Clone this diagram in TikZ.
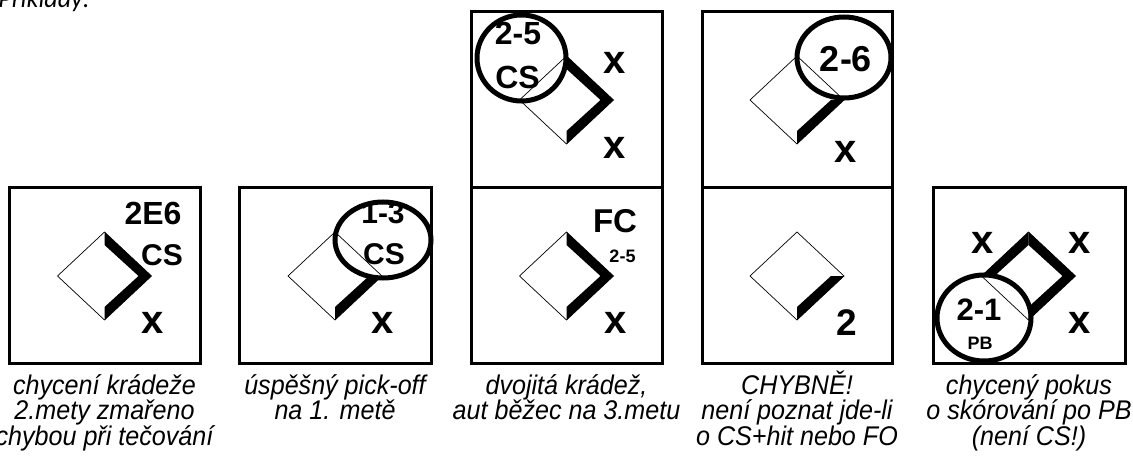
\documentclass[tikz,border=0pt]{standalone}
\usepackage{fontspec}
\setmainfont{Liberation Sans}
\newfontfamily\narrowfont[FakeStretch=0.93]{Liberation Sans}
\newfontfamily\notefont{Carlito}
\usetikzlibrary{positioning}

\newcommand{\sz}[1]{\fontsize{#1}{#1}\selectfont}
% diamond and the thick base paths (inside the diamond)
\newcommand{\basediamond}{\draw[base] (-47,0) -- (0,-44) -- (47,0) -- (0,44) -- cycle;}
\newcommand{\bandone}{\fill (47,0) -- (0,44) -- (0,31) -- (34,0) -- cycle;}
\newcommand{\bandtwo}{\fill (0,-44) -- (47,0) -- (34,0) -- (0,-31) -- cycle;}
\newcommand{\bandthree}{\fill (-47,0) -- (0,-44) -- (0,-31) -- (-34,0) -- cycle;}

\begin{document}
\begin{tikzpicture}[
    x=1pt, y=-1pt,
    frame/.style={line width=3pt},
    base/.style={line width=0.7pt},
    ring/.style={line width=5pt},
    tag/.style={anchor=base, inner sep=0pt, font=\bfseries\sz{#1}},
    capt/.style={anchor=base, inner sep=0pt, align=center, font=\narrowfont\itshape\fontsize{27}{25.5}\selectfont}
]
\useasboundingbox (0,0) rectangle (1133,468);

\node[anchor=base east, inner sep=0pt, font=\notefont\itshape\sz{26}] (intro) at (90,8) {Příklady:};

% box 1
\draw[frame] (9,188) rectangle (200,363);
\begin{scope}[shift={(104.5,276)}]
  \basediamond \bandtwo \bandone
\end{scope}
\node[tag=32] (b1code) at (153,224.5) {2E6};
\node[tag=30] (b1cs) at (162,265) {CS};
\node[tag=40] (b1x) at (152.5,333) {x};
\node[capt] (b1text) at (104.5,445) {chycení krádeže\\2.mety zmařeno\\chybou při tečování};

% box 2
\draw[frame] (239,188) rectangle (431,363);
\begin{scope}[shift={(335,276)}]
  \basediamond \bandone
\end{scope}
\draw[ring] (383,240) ellipse [x radius=48pt, y radius=38pt];
\node[tag=30] (b2code) at (383,223.2) {1-3};
\node[tag=30] (b2cs) at (384,264.7) {CS};
\node[tag=40] (b2x) at (382.5,333) {x};
\node[capt] (b2text) at (335,419.5) {úspěšný pick-off\\na 1. metě};

% box 3
\draw[frame] (471,12) rectangle (662,188);
\draw[frame] (471,188) rectangle (662,363);
\begin{scope}[shift={(566.5,100)}]
  \basediamond \bandtwo \bandone
\end{scope}
\draw[ring] (521.5,58) ellipse [x radius=44.5pt, y radius=43pt];
\node[tag=32] (b3code) at (518,44.5) {2-5};
\node[tag=32] (b3cs) at (517.5,89) {CS};
\node[tag=40] (b3xa) at (615,73.4) {x};
\node[tag=40] (b3xb) at (615,158.4) {x};
\begin{scope}[shift={(566.5,276)}]
  \basediamond \bandtwo \bandone
\end{scope}
\node[tag=33] (b3fc) at (615,232.8) {FC};
\node[tag=18] (b3sub) at (622.5,262.4) {2-5};
\node[tag=40] (b3xc) at (616,333.4) {x};
\node[capt] (b3text) at (566.5,419.5) {dvojitá krádež,\\aut běžec na 3.metu};

% box 4
\draw[frame] (702,12) rectangle (892,188);
\draw[frame] (702,188) rectangle (892,363);
\begin{scope}[shift={(797,100)}]
  \basediamond \bandone
\end{scope}
\draw[ring] (844,57.5) ellipse [x radius=47pt, y radius=40.5pt];
\node[tag=36] (b4code) at (846,71.9) {2-6};
\node[tag=40] (b4x) at (846,162.4) {x};
\begin{scope}[shift={(797,276)}]
  \basediamond \bandone
\end{scope}
\node[tag=37] (b4two) at (846.7,335) {2};
\node[capt] (b4text) at (797,445) {CHYBNĚ!\\není poznat jde-li\\o CS+hit nebo FO};

% box 5
\draw[frame] (933,188) rectangle (1125,363);
\begin{scope}[shift={(1028.5,276)}]
  \basediamond \bandthree \bandtwo \bandone
\end{scope}
\draw[ring] (984,318) ellipse [x radius=47pt, y radius=43pt];
\node[tag=31] (b5code) at (979,320) {2-1};
\node[tag=18] (b5pb) at (980,349) {PB};
\node[tag=40] (b5xa) at (982.5,253) {x};
\node[tag=40] (b5xb) at (1080,253) {x};
\node[tag=40] (b5xc) at (1080,333.4) {x};
\node[capt] (b5text) at (1029,445) {chycený pokus\\o skórování po PB\\(není CS!)};
\end{tikzpicture}
\end{document}
